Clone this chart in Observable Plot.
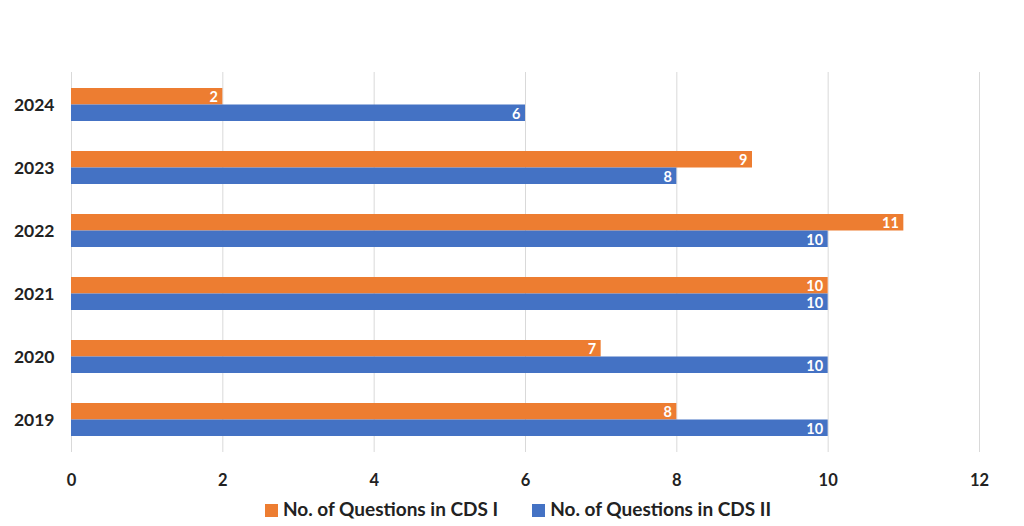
<!DOCTYPE html>
<html>
<head>
<meta charset="utf-8">
<script src="https://cdn.jsdelivr.net/npm/d3@7"></script>
<script src="https://cdn.jsdelivr.net/npm/@observablehq/plot@0.6"></script>
<style>
  body { margin: 0; background: #fff; font-family: Lato, "Open Sans", sans-serif; }
  #legend { display: flex; justify-content: center; gap: 34px; font-weight: bold; font-size: 19px; color: #222; margin-top: 5px; padding-left: 12px; }
  #legend span.sw { display: inline-block; width: 13px; height: 13px; margin-right: 5px; vertical-align: -1px; }
</style>
</head>
<body>
<div id="chart"></div>
<div id="legend"></div>
<script>
const years = ["2024", "2023", "2022", "2021", "2020", "2019"];
const cdsI  = [2, 9, 11, 10, 7, 8];
const cdsII = [6, 8, 10, 10, 10, 10];
const seriesNames = ["No. of Questions in CDS I", "No. of Questions in CDS II"];
const seriesColors = ["#ED7D31", "#4472C4"];
const xTicks = [0, 2, 4, 6, 8, 10, 12];

const rowsI = years.map((y, i) => ({year: y, value: cdsI[i]}));
const rowsII = years.map((y, i) => ({year: y, value: cdsII[i]}));

const half = 16.5;

const plot = Plot.plot({
  width: 1024,
  height: 492,
  marginLeft: 71,
  marginRight: 45,
  marginTop: 72,
  marginBottom: 40,
  style: {fontFamily: "Lato, 'Open Sans', sans-serif", fontWeight: "bold", color: "#222", background: "#fff"},
  x: {domain: [0, 12], ticks: xTicks, label: null, tickSize: 0, tickPadding: 22, tickFormat: d => String(d)},
  y: {domain: years, paddingInner: 0.48, paddingOuter: 0.24, label: null, tickSize: 0, tickPadding: 17},
  marks: [
    Plot.ruleX(xTicks, {stroke: "#d9d9d9", strokeWidth: 1}),
    Plot.barX(rowsI, {x: "value", y: "year", fill: seriesColors[0], insetBottom: half}),
    Plot.barX(rowsII, {x: "value", y: "year", fill: seriesColors[1], insetTop: half}),
    Plot.text(rowsI, {x: "value", y: "year", text: d => String(d.value), dy: -8, dx: -5, textAnchor: "end", fill: "white", fontSize: 14.5, fontWeight: "bold"}),
    Plot.text(rowsII, {x: "value", y: "year", text: d => String(d.value), dy: 9, dx: -5, textAnchor: "end", fill: "white", fontSize: 14.5, fontWeight: "bold"}),
    Plot.axisX({ticks: xTicks, tickSize: 0, tickPadding: 22, fontSize: 16.5, fontWeight: "bold", label: null}),
    Plot.axisY({tickSize: 0, tickPadding: 17, fontSize: 17.5, fontWeight: "bold", label: null})
  ]
});
document.getElementById("chart").appendChild(plot);

const legend = document.getElementById("legend");
seriesNames.forEach((n, i) => {
  const item = document.createElement("div");
  item.innerHTML = `<span class="sw" style="background:${seriesColors[i]}"></span>${n}`;
  legend.appendChild(item);
});
</script>
</body>
</html>
